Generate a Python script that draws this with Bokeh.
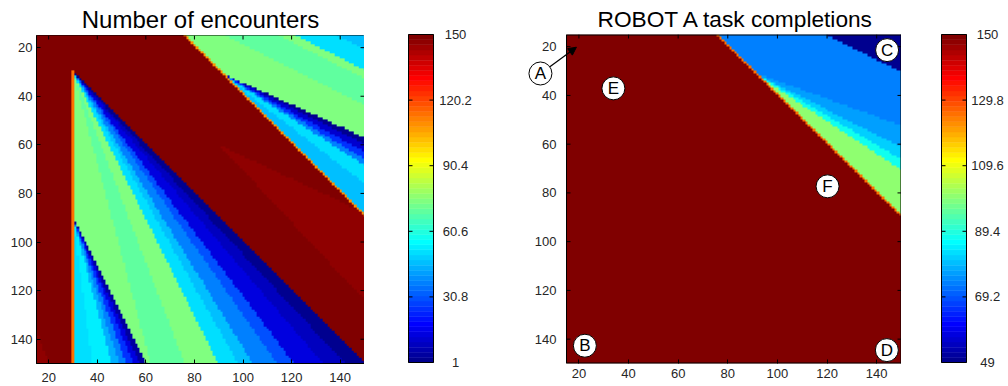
import numpy as np
from bokeh.plotting import figure
from bokeh.models import (LinearColorMapper, FixedTicker, Range1d, Arrow, NormalHead)
from bokeh.core.properties import value
from bokeh.layouts import row
from bokeh.embed import file_html
from bokeh.resources import INLINE

# ---------------- data ----------------
grid_x = list(range(15, 151))
grid_y = list(range(15, 151))
axis_ticks = [20, 40, 60, 80, 100, 120, 140]

# left panel: "Number of encounters"
enc_low, enc_high = 1, 150
enc_cbar_ticks = [1, 30.8, 60.6, 90.4, 120.2, 150]
enc_background = 150
# fan from apex (30,30): sectors bounded by rays hitting the bottom edge (y=150) at these x
enc_fanA_apex = (30, 30)
enc_fanA_edges = [30, 62, 76, 90, 98, 104, 114, 121, 133, 142, 150]
enc_fanA_values = [75, 70, 75, 52, 46, 38, 30, 14, 8, 3]
# fan from apex (30,90): rays hitting the bottom edge at these x
enc_fanB_apex = (30, 90)
enc_fanB_edges = [30, 38, 46, 49, 52, 55, 57.5, 60]
enc_fanB_values = [50, 53, 45, 36, 26, 14, 4]
# upper-right area: bands parallel to slope 0.5, indexed by where they hit the right edge
enc_band_edges = [-100, 21, 29.5, 33, 44, 200]
enc_band_values = [46, 52, 75, 70, 75]
# fan from apex (90,30): rays hitting the right edge (x=150) at these y
enc_fanC_apex = (90, 30)
enc_fanC_edges = [57, 60, 63, 66, 68.5, 76, 91]
enc_fanC_values = [3, 12, 26, 36, 52, 47]
# slightly lighter red wedge inside the red band, apex (90,60)
enc_fanD_apex = (90, 60)
enc_fanD_edges = [88, 97, 118, 124]
enc_fanD_values = [147, 146, 147]
enc_corner_tri = [(15, 136), (15, 151), (20.5, 151)]
enc_corner_value = 147
enc_edge_values = (115, 110)   # orange edge at x=30 and along y=x-60

# right panel: "ROBOT A task completions"
task_low, task_high = 49, 150
task_cbar_ticks = [49, 69.2, 89.4, 109.6, 129.8, 150]
task_background = 150
task_band_edges = [-100, 29.8, 200]
task_band_values = [50, 73.5]
task_fan_apex = (90, 30)
task_fan_edges = [52, 61, 66, 70.3, 91]
task_fan_values = [76, 82, 88, 99.5]
task_edge_value = 125
marker_names = ["A", "B", "C", "D", "E", "F"]
marker_x = [4.5, 22.4, 144.2, 144.1, 33.9, 120.2]
marker_y = [31.0, 142.7, 21.4, 144.5, 37.1, 77.3]
pointer_start_xy = (8.3, 28.2)
pointer_target_xy = (19.0, 20.2)

# ---------------- raster construction ----------------
X, Y = np.meshgrid(np.array(grid_x, float), np.array(grid_y, float))


def fan_bottom(Z, apex, edges, values, region):
    ax, ay = apex
    with np.errstate(divide="ignore", invalid="ignore"):
        t = ax + (X - ax) * (150 - ay) / (Y - ay)
    ok = (Y > ay) & region
    for i, v in enumerate(values):
        lo, hi = edges[i], edges[i + 1]
        last = i == len(values) - 1
        m = ok & (t >= lo) & ((t < hi) | (last & (t <= hi + 1e-9)))
        Z[m] = v


def fan_right(Z, apex, edges, values, region):
    ax, ay = apex
    with np.errstate(divide="ignore", invalid="ignore"):
        s = ay + (Y - ay) * (150 - ax) / (X - ax)
    ok = (X > ax) & region
    for i, v in enumerate(values):
        m = ok & (s >= edges[i]) & (s < edges[i + 1])
        Z[m] = v


def bands(Z, edges, values, region):
    r = Y + 0.5 * (150 - X)
    for i, v in enumerate(values):
        m = region & (r >= edges[i]) & (r < edges[i + 1])
        Z[m] = v


def tri_fill(Z, pts, v):
    (x1, y1), (x2, y2), (x3, y3) = pts
    d1 = (X - x2) * (y1 - y2) - (x1 - x2) * (Y - y2)
    d2 = (X - x3) * (y2 - y3) - (x2 - x3) * (Y - y3)
    d3 = (X - x1) * (y3 - y1) - (x3 - x1) * (Y - y1)
    neg = (d1 < 0) | (d2 < 0) | (d3 < 0)
    pos = (d1 > 0) | (d2 > 0) | (d3 > 0)
    Z[~(neg & pos)] = v


upper_right = (X - Y) > 60
red_band = ((X - Y) <= 60) & (Y < X) & (X > 30)

enc = np.full(X.shape, float(enc_background))
fan_bottom(enc, enc_fanA_apex, enc_fanA_edges, enc_fanA_values, X > 30)
fan_bottom(enc, enc_fanB_apex, enc_fanB_edges, enc_fanB_values, X > 30)
bands(enc, enc_band_edges, enc_band_values, upper_right)
fan_right(enc, enc_fanC_apex, enc_fanC_edges, enc_fanC_values, upper_right)
fan_right(enc, enc_fanD_apex, enc_fanD_edges, enc_fanD_values, red_band)
tri_fill(enc, enc_corner_tri, enc_corner_value)
enc[(X == 30) & (Y >= 30)] = enc_edge_values[0]
enc[(X - Y) == 61] = enc_edge_values[1]

task = np.full(X.shape, float(task_background))
bands(task, task_band_edges, task_band_values, upper_right)
fan_right(task, task_fan_apex, task_fan_edges, task_fan_values, upper_right)
task[(X - Y) == 61] = task_edge_value


# ---------------- MATLAB jet(64) ----------------
def jet(m=64):
    n = int(np.ceil(m / 4))
    u = np.concatenate([np.arange(1, n + 1) / n, np.ones(n - 1), np.arange(n, 0, -1) / n])
    g = int(np.ceil(n / 2)) - (1 if m % 4 == 1 else 0) + np.arange(1, len(u) + 1)
    J = np.zeros((m, 3))
    for col, idx in enumerate([g + n, g, g - n]):
        for k, val in zip(idx, u):
            if 1 <= k <= m:
                J[k - 1, col] = val
    return ["#%02x%02x%02x" % tuple(int(round(c * 255)) for c in rgb) for rgb in J]


PAL = jet(64)
FONT = "Liberation Sans"
TXT = "#262626"
H = 386
TICK = 4  # tick length in px


def style_title(p, size, align="center", offset=0):
    p.title.text_font = FONT
    p.title.text_font_size = size
    p.title.text_font_style = "normal"
    p.title.align = align
    p.title.offset = offset
    p.title.text_color = "black"
    p.title.standoff = 6


def style_axis(ax, standoff):
    ax.ticker = FixedTicker(ticks=axis_ticks)
    ax.major_tick_in = TICK
    ax.major_tick_out = 0
    ax.minor_tick_line_color = None
    ax.major_tick_line_color = "black"
    ax.major_label_text_font = FONT
    ax.major_label_text_font_size = "13px"
    ax.major_label_text_color = TXT
    ax.major_label_standoff = standoff


# ---------- left heat map ----------
fw1, fh1 = 328, 328
p1 = figure(frame_width=fw1, frame_height=fh1, min_border_left=36, min_border_right=0,
            min_border_top=33, min_border_bottom=H - 33 - fh1,
            x_range=Range1d(15, 150), y_range=Range1d(150, 15),
            output_backend="svg", toolbar_location=None, title="Number of encounters")
p1.frame_align = False
m1 = LinearColorMapper(palette=PAL, low=enc_low, high=enc_high)
p1.image(image=[enc], x=14.5, y=14.5, dw=136, dh=136, color_mapper=m1)
p1.grid.visible = False
p1.outline_line_color = "black"
style_title(p1, "24px")
style_axis(p1.xaxis[0], 9)
style_axis(p1.yaxis[0], 4)
p1.xaxis.axis_line_color = "black"
p1.yaxis.axis_line_color = "black"
ux1, uy1 = TICK * 135 / fw1, TICK * 135 / fh1
p1.segment(x0=axis_ticks, x1=axis_ticks, y0=[15] * 7, y1=[15 + uy1] * 7, line_color="black")
p1.segment(x0=[150] * 7, x1=[150 - ux1] * 7, y0=axis_ticks, y1=axis_ticks, line_color="black")

# ---------- right heat map (frame widened so that the "A" pointer fits) ----------
plot_w2, extra2, fh2 = 335, 64, 329
sx2 = plot_w2 / 135.0
x_left2 = 15 - extra2 / sx2
p2 = figure(frame_width=plot_w2 + extra2, frame_height=fh2, min_border_left=2, min_border_right=0,
            min_border_top=33, min_border_bottom=H - 33 - fh2,
            x_range=Range1d(x_left2, 150), y_range=Range1d(150, 15),
            output_backend="svg", toolbar_location=None, title="ROBOT A task completions")
p2.frame_align = False
m2 = LinearColorMapper(palette=PAL, low=task_low, high=task_high)
p2.image(image=[task], x=15, y=15, dw=135, dh=135, color_mapper=m2)
p2.grid.visible = False
p2.outline_line_color = None
p2.yaxis.visible = False
style_title(p2, "22.7px", align="left", offset=extra2 + 31)
style_axis(p2.xaxis[0], 5)
p2.xaxis.axis_line_color = None
ux2, uy2 = TICK / sx2, TICK * 135 / fh2
# frame border
p2.segment(x0=[15, 15, 15, 150], x1=[150, 150, 15, 150], y0=[15, 150, 15, 15], y1=[15, 150, 150, 150],
           line_color="black", line_width=[2, 2, 1, 2])
# ticks on left, top and right
p2.segment(x0=[15] * 7, x1=[15 + ux2] * 7, y0=axis_ticks, y1=axis_ticks, line_color="black")
p2.segment(x0=axis_ticks, x1=axis_ticks, y0=[15] * 7, y1=[15 + uy2] * 7, line_color="black")
p2.segment(x0=[150] * 7, x1=[150 - ux2] * 7, y0=axis_ticks, y1=axis_ticks, line_color="black")
p2.text(x=[15 - 10 / sx2] * 7, y=axis_ticks, text=[str(t) for t in axis_ticks],
        text_align="right", text_baseline="middle", text_font=value(FONT),
        text_font_size="13px", text_color=TXT)
p2.add_layout(Arrow(end=NormalHead(size=8, fill_color="black", line_color="black"),
                    x_start=pointer_start_xy[0], y_start=pointer_start_xy[1],
                    x_end=pointer_target_xy[0], y_end=pointer_target_xy[1],
                    line_width=1.2, line_color="black"))
p2.scatter(marker_x, marker_y, size=23, fill_color="white", line_color="black", line_width=1)
p2.text(marker_x, marker_y, text=marker_names, text_align="center", text_baseline="middle",
        text_font=value(FONT), text_font_size="17px", text_color="black")


# ---------- colour bars ----------
def make_cbar(fig_w, bar_x0, bar_w, label_cx, low, high, ticks):
    top_px, bot_px = 34, 362
    upp = (high - low) / (bot_px - top_px)
    c = figure(width=fig_w, height=H, x_range=Range1d(0, fig_w),
               y_range=Range1d(low - (H - bot_px) * upp, high + top_px * upp),
               x_axis_type=None, y_axis_type=None, min_border=0,
               output_backend="svg", toolbar_location=None)
    c.frame_align = False
    c.outline_line_color = None
    c.grid.visible = False
    edges = np.linspace(low, high, len(PAL) + 1)
    c.quad(left=bar_x0, right=bar_x0 + bar_w, bottom=edges[:-1], top=edges[1:],
           fill_color=PAL, line_color=PAL, line_width=0.5)
    c.quad(left=[bar_x0], right=[bar_x0 + bar_w], bottom=[low], top=[high],
           fill_color=None, line_color="black", line_width=1)
    inner = ticks[1:-1]
    n = len(inner)
    c.segment(x0=[bar_x0] * n, x1=[bar_x0 + TICK] * n, y0=inner, y1=inner, line_color="black")
    c.segment(x0=[bar_x0 + bar_w] * n, x1=[bar_x0 + bar_w - TICK] * n, y0=inner, y1=inner,
              line_color="black")
    c.text(x=[label_cx] * len(ticks), y=ticks, text=["%g" % t for t in ticks],
           text_align="center", text_baseline="middle", text_font=value(FONT),
           text_font_size="13px", text_color=TXT)
    return c


cb1 = make_cbar(136, 44, 25, 91, enc_low, enc_high, enc_cbar_ticks)
cb2 = make_cbar(107, 40, 25, 86, task_low, task_high, task_cbar_ticks)

layout = row(p1, cb1, p2, cb2)
open("out.html", "w").write(file_html(layout, INLINE))
